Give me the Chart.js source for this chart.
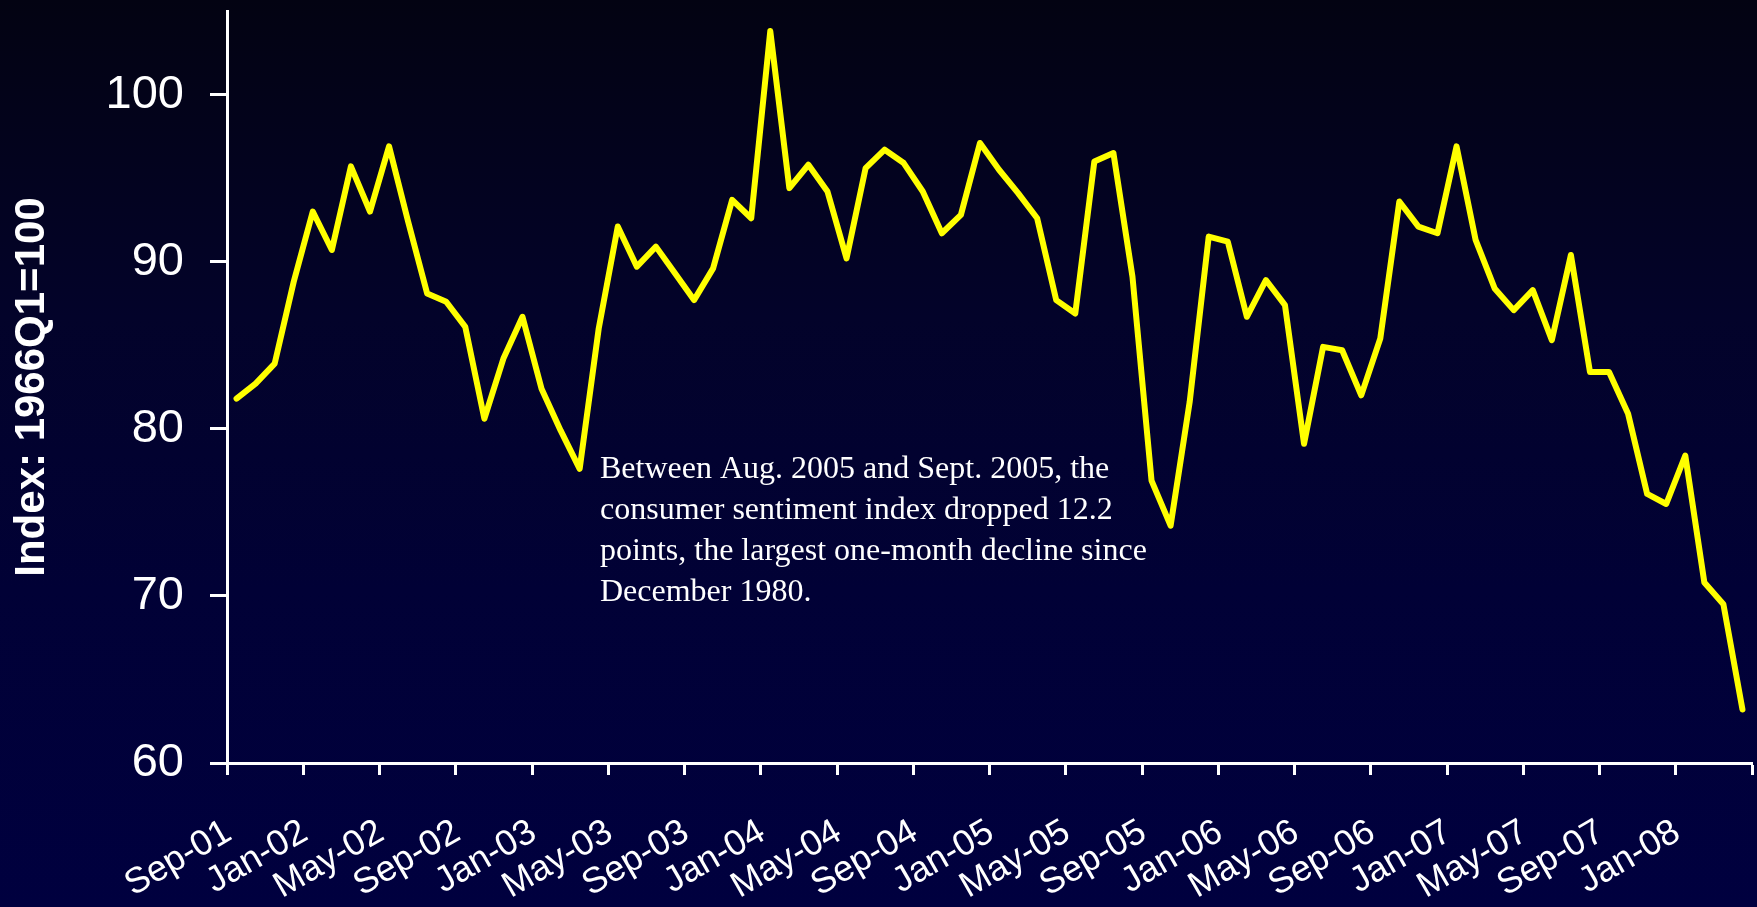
<!DOCTYPE html>
<html><head><meta charset="utf-8">
<script src="https://cdn.jsdelivr.net/npm/chart.js@4.4.1/dist/chart.umd.min.js"></script>
<style>
html,body{margin:0;padding:0;width:1757px;height:907px;overflow:hidden;
background:linear-gradient(180deg,#030312 0%,#03032a 35%,#010136 65%,#00003f 100%);}
#wrap{position:relative;width:1757px;height:907px;}
canvas{display:block;}
</style></head><body><div id="wrap"><canvas id="c" width="1757" height="907"></canvas></div>
<script>
const months = [
 'Sep-01','Oct-01','Nov-01','Dec-01',
 'Jan-02','Feb-02','Mar-02','Apr-02','May-02','Jun-02','Jul-02','Aug-02','Sep-02','Oct-02','Nov-02','Dec-02',
 'Jan-03','Feb-03','Mar-03','Apr-03','May-03','Jun-03','Jul-03','Aug-03','Sep-03','Oct-03','Nov-03','Dec-03',
 'Jan-04','Feb-04','Mar-04','Apr-04','May-04','Jun-04','Jul-04','Aug-04','Sep-04','Oct-04','Nov-04','Dec-04',
 'Jan-05','Feb-05','Mar-05','Apr-05','May-05','Jun-05','Jul-05','Aug-05','Sep-05','Oct-05','Nov-05','Dec-05',
 'Jan-06','Feb-06','Mar-06','Apr-06','May-06','Jun-06','Jul-06','Aug-06','Sep-06','Oct-06','Nov-06','Dec-06',
 'Jan-07','Feb-07','Mar-07','Apr-07','May-07','Jun-07','Jul-07','Aug-07','Sep-07','Oct-07','Nov-07','Dec-07',
 'Jan-08','Feb-08','Mar-08','Apr-08'
];
const sentiment = [
 81.8, 82.7, 83.9, 88.8,
 93.0, 90.7, 95.7, 93.0, 96.9, 92.4, 88.1, 87.6, 86.1, 80.6, 84.2, 86.7,
 82.4, 79.9, 77.6, 86.0, 92.1, 89.7, 90.9, 89.3, 87.7, 89.6, 93.7, 92.6,
 103.8, 94.4, 95.8, 94.2, 90.2, 95.6, 96.7, 95.9, 94.2, 91.7, 92.8, 97.1,
 95.5, 94.1, 92.6, 87.7, 86.9, 96.0, 96.5, 89.1, 76.9, 74.2, 81.6, 91.5,
 91.2, 86.7, 88.9, 87.4, 79.1, 84.9, 84.7, 82.0, 85.4, 93.6, 92.1, 91.7,
 96.9, 91.3, 88.4, 87.1, 88.3, 85.3, 90.4, 83.4, 83.4, 80.9, 76.1, 75.5,
 78.4, 70.8, 69.5, 63.2
];
const yTicks = [60, 70, 80, 90, 100];
const yTitle = 'Index: 1966Q1=100';
const annotationLines = [
 'Between Aug. 2005 and Sept. 2005, the',
 'consumer sentiment index dropped 12.2',
 'points, the largest one-month decline since',
 'December 1980.'
];

const SANS = '"Liberation Sans", Arial, sans-serif';
const SERIF = '"Liberation Serif", "Times New Roman", serif';

const annotationPlugin = {
  id: 'note',
  afterDraw(chart) {
    const ctx = chart.ctx;
    ctx.save();
    ctx.fillStyle = '#ffffff';
    ctx.font = '32px ' + SERIF;
    ctx.textAlign = 'left';
    ctx.textBaseline = 'alphabetic';
    annotationLines.forEach((line, i) => ctx.fillText(line, 600, 478 + i * 41));
    ctx.restore();
  }
};

new Chart(document.getElementById('c'), {
  type: 'line',
  data: {
    labels: months,
    datasets: [{
      data: sentiment,
      borderColor: '#ffff00',
      borderWidth: 6,
      pointRadius: 0,
      tension: 0,
      fill: false,
      borderJoinStyle: 'round',
      borderCapStyle: 'round',
      clip: false
    }]
  },
  options: {
    responsive: false,
    animation: false,
    events: [],
    layout: { padding: { top: 11, right: 5, left: 0, bottom: 0 } },
    plugins: { legend: { display: false }, tooltip: { enabled: false } },
    scales: {
      x: {
        type: 'category',
        offset: true,
        border: { display: true, color: '#ffffff', width: 3 },
        grid: {
          offset: true,
          drawOnChartArea: false,
          drawTicks: true,
          tickLength: 12,
          tickWidth: 3,
          tickColor: ctx => (ctx.type !== 'tick' || ctx.index % 4 === 0) ? '#ffffff' : 'rgba(0,0,0,0)'
        },
        ticks: {
          autoSkip: false,
          maxRotation: 30,
          minRotation: 30,
          color: '#ffffff',
          font: { family: SANS, size: 36 },
          padding: 36,
          labelOffset: -8,
          callback: (v, i) => (i % 4 === 0 ? months[i] : '')
        },
        afterFit(s) {
          s.height = 144;
          s.paddingLeft = 0; s.paddingRight = 0; s.paddingTop = 0; s.paddingBottom = 0;
        }
      },
      y: {
        min: 60,
        max: 105,
        border: { display: true, color: '#ffffff', width: 3 },
        grid: {
          drawOnChartArea: false,
          drawTicks: true,
          tickLength: 17,
          tickWidth: 3,
          tickColor: '#ffffff'
        },
        afterBuildTicks(s) { s.ticks = yTicks.map(v => ({ value: v })); },
        ticks: {
          color: '#ffffff',
          font: { family: SANS, size: 47 },
          padding: 26
        },
        title: {
          display: true,
          text: yTitle,
          color: '#ffffff',
          font: { family: SANS, size: 42, weight: 'bold' },
          padding: { top: 7, bottom: 0 }
        },
        afterFit(s) {
          s.width = 227;
          s.paddingLeft = 0; s.paddingRight = 0; s.paddingTop = 0; s.paddingBottom = 0;
        }
      }
    }
  },
  plugins: [annotationPlugin]
});
</script>
</body></html>
